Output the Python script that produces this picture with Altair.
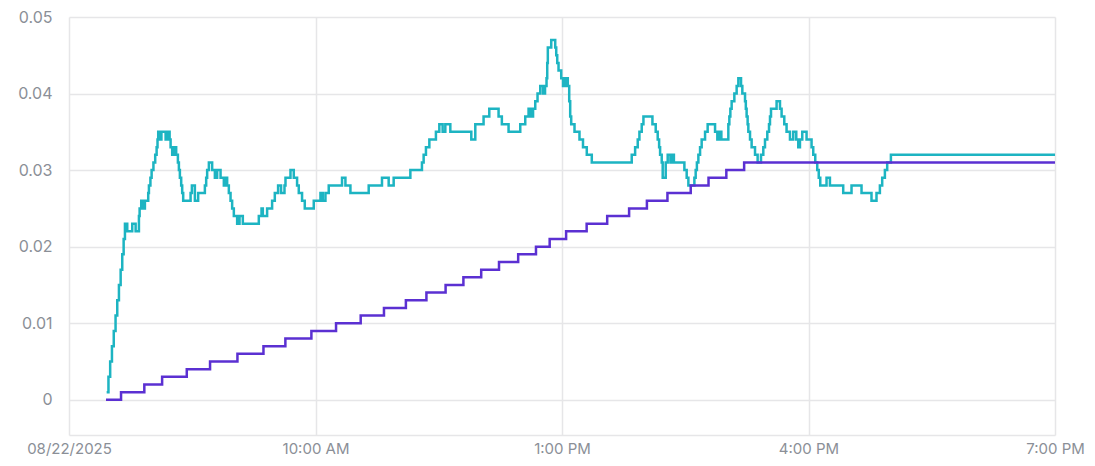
import altair as alt
import pandas as pd

DAY = "2025-08-22"

# Teal series (step-after), time of day and value
teal_times = [
    "07:27:30", "07:28:49", "07:30:04", "07:31:22", "07:32:41", "07:34:00", "07:35:14",
    "07:36:28", "07:37:43", "07:38:53", "07:39:54", "07:40:51", "07:42:32", "07:46:11",
    "07:48:39", "07:51:04", "07:51:34", "07:52:45", "07:53:59", "07:55:26", "07:57:51",
    "07:58:22", "07:59:27", "08:00:20", "08:01:39", "08:02:57", "08:03:59", "08:04:38",
    "08:05:09", "08:06:01", "08:07:29", "08:10:33", "08:11:51", "08:13:28", "08:14:11",
    "08:15:21", "08:16:36", "08:18:16", "08:19:31", "08:20:15", "08:20:58", "08:21:55",
    "08:22:39", "08:23:23", "08:28:47", "08:29:44", "08:31:55", "08:34:19", "08:39:13",
    "08:40:10", "08:40:53", "08:42:08", "08:44:32", "08:46:31", "08:48:11", "08:50:40",
    "08:53:04", "08:54:19", "08:55:29", "08:56:43", "08:57:58", "08:59:08", "09:00:22",
    "09:02:47", "09:04:32", "09:06:56", "09:18:36", "09:20:35", "09:21:32", "09:24:40",
    "09:28:19", "09:30:17", "09:32:41", "09:34:52", "09:37:21", "09:38:05", "09:41:44",
    "09:44:08", "09:46:33", "09:47:47", "09:50:11", "09:52:10", "09:58:44", "10:03:37",
    "10:05:17", "10:07:16", "10:09:40", "10:19:22", "10:21:51", "10:25:30", "10:38:51",
    "10:48:33", "10:53:26", "10:57:05", "11:09:16", "11:17:44", "11:18:58", "11:20:39",
    "11:23:08", "11:27:56", "11:30:25", "11:32:50", "11:34:48", "11:38:27", "11:53:46",
    "11:56:41", "12:02:44", "12:06:54", "12:13:41", "12:16:05", "12:20:59", "12:29:31",
    "12:33:10", "12:35:35", "12:37:02", "12:38:52", "12:40:28", "12:42:08", "12:44:07",
    "12:46:09", "12:47:37", "12:48:42", "12:49:13", "12:49:39", "12:52:08", "12:55:03",
    "12:55:47", "12:56:31", "12:57:28", "12:59:26", "13:00:44", "13:02:34", "13:04:14",
    "13:05:16", "13:05:59", "13:06:43", "13:09:08", "13:12:46", "13:15:20", "13:18:06",
    "13:21:45", "13:50:55", "13:53:24", "13:55:18", "13:56:32", "13:58:13", "13:59:28",
    "14:06:02", "14:08:26", "14:09:53", "14:10:55", "14:11:38", "14:12:49", "14:13:32",
    "14:15:44", "14:17:11", "14:19:10", "14:20:37", "14:21:43", "14:29:22", "14:31:03",
    "14:32:17", "14:36:40", "14:37:37", "14:38:30", "14:39:35", "14:40:49", "14:41:59",
    "14:44:28", "14:46:22", "14:51:46", "14:53:26", "14:54:54", "14:56:22", "15:01:28",
    "15:02:12", "15:02:56", "15:03:53", "15:05:51", "15:07:32", "15:08:46", "15:10:44",
    "15:11:41", "15:13:39", "15:14:14", "15:14:49", "15:15:33", "15:16:04", "15:17:18",
    "15:18:28", "15:20:57", "15:22:51", "15:25:19", "15:27:00", "15:28:14", "15:29:55",
    "15:31:10", "15:31:53", "15:32:37", "15:36:42", "15:39:11", "15:40:21", "15:42:19",
    "15:43:59", "15:46:28", "15:48:53", "15:51:04", "15:52:32", "15:53:46", "15:55:27",
    "15:58:35", "16:02:14", "16:03:28", "16:04:56", "16:06:23", "16:07:29", "16:08:35",
    "16:13:10", "16:15:39", "16:25:21", "16:31:25", "16:38:43", "16:46:00", "16:49:39",
    "16:52:08", "16:53:49", "16:55:47", "16:57:28", "17:00:10", "19:00:00",
]
teal_values = [
    0.001, 0.003, 0.005, 0.007, 0.009, 0.011, 0.013,
    0.015, 0.017, 0.019, 0.021, 0.023, 0.022, 0.023,
    0.022, 0.024, 0.025, 0.026, 0.025, 0.026, 0.027,
    0.028, 0.029, 0.030, 0.031, 0.032, 0.033, 0.034,
    0.035, 0.034, 0.035, 0.034, 0.035, 0.034, 0.033,
    0.032, 0.033, 0.032, 0.031, 0.030, 0.029, 0.028,
    0.027, 0.026, 0.027, 0.028, 0.026, 0.027, 0.028,
    0.029, 0.030, 0.031, 0.030, 0.029, 0.030, 0.029,
    0.028, 0.029, 0.028, 0.027, 0.026, 0.025, 0.024,
    0.023, 0.024, 0.023, 0.024, 0.025, 0.024, 0.025,
    0.026, 0.027, 0.028, 0.027, 0.028, 0.029, 0.030,
    0.029, 0.028, 0.027, 0.026, 0.025, 0.026, 0.027,
    0.026, 0.027, 0.028, 0.029, 0.028, 0.027, 0.028,
    0.029, 0.028, 0.029, 0.030, 0.031, 0.032, 0.033,
    0.034, 0.035, 0.036, 0.035, 0.036, 0.035, 0.034,
    0.036, 0.037, 0.038, 0.037, 0.036, 0.035, 0.036,
    0.037, 0.038, 0.037, 0.038, 0.039, 0.040, 0.041,
    0.040, 0.041, 0.042, 0.044, 0.046, 0.047, 0.046,
    0.045, 0.044, 0.043, 0.042, 0.041, 0.042, 0.041,
    0.039, 0.037, 0.036, 0.035, 0.034, 0.033, 0.032,
    0.031, 0.032, 0.033, 0.034, 0.035, 0.036, 0.037,
    0.036, 0.035, 0.034, 0.033, 0.032, 0.031, 0.029,
    0.031, 0.032, 0.031, 0.032, 0.031, 0.030, 0.029,
    0.028, 0.029, 0.030, 0.031, 0.032, 0.033, 0.034,
    0.035, 0.036, 0.035, 0.034, 0.035, 0.034, 0.036,
    0.037, 0.038, 0.039, 0.040, 0.041, 0.042, 0.041,
    0.040, 0.039, 0.038, 0.037, 0.036, 0.035, 0.034,
    0.033, 0.032, 0.031, 0.032, 0.033, 0.034, 0.035,
    0.036, 0.037, 0.038, 0.039, 0.038, 0.037, 0.036,
    0.035, 0.034, 0.035, 0.034, 0.033, 0.034, 0.035,
    0.034, 0.033, 0.032, 0.031, 0.030, 0.029, 0.028,
    0.029, 0.028, 0.027, 0.028, 0.027, 0.026, 0.027,
    0.028, 0.029, 0.030, 0.031, 0.032, 0.032,
]

# Purple series (step-after)
purple_times = [
    "07:27:00", "07:38:00", "07:55:00", "08:08:00", "08:26:00", "08:43:00", "09:03:00",
    "09:22:00", "09:38:00", "09:57:00", "10:15:00", "10:33:00", "10:50:00", "11:06:00",
    "11:21:00", "11:35:00", "11:48:00", "12:01:00", "12:14:00", "12:28:00", "12:41:00",
    "12:51:00", "13:03:00", "13:18:00", "13:33:00", "13:49:00", "14:02:00", "14:17:00",
    "14:34:00", "14:47:00", "15:00:00", "15:13:00", "19:00:00",
]
purple_values = [
    0.000, 0.001, 0.002, 0.003, 0.004, 0.005, 0.006,
    0.007, 0.008, 0.009, 0.010, 0.011, 0.012, 0.013,
    0.014, 0.015, 0.016, 0.017, 0.018, 0.019, 0.020,
    0.021, 0.022, 0.023, 0.024, 0.025, 0.026, 0.027,
    0.028, 0.029, 0.030, 0.031, 0.031,
]

x_tick_hours = [7, 10, 13, 16, 19]
y_ticks = [0, 0.01, 0.02, 0.03, 0.04, 0.05]

TEAL = "#1db4c2"
PURPLE = "#5b30d2"
GRID = "#e6e6e8"
LABEL = "#8b8f97"
FONT = "Inter"

teal_df = pd.DataFrame({"t": [f"{DAY}T{s}" for s in teal_times], "v": teal_values})
purple_df = pd.DataFrame({"t": [f"{DAY}T{s}" for s in purple_times], "v": purple_values})


def dt(h):
    return alt.DateTime(year=2025, month=8, date=22, hours=h)


x_enc = alt.X(
    "t:T",
    scale=alt.Scale(domain=[dt(7), dt(19)]),
    axis=alt.Axis(
        values=[dt(h) for h in x_tick_hours],
        labelExpr="hours(datum.value) == 7 ? timeFormat(datum.value, '%m/%d/%Y') : timeFormat(datum.value, '%-I:%M %p')",
        title=None,
        ticks=False,
        domain=True,
        domainColor=GRID,
        domainWidth=1.5,
        grid=True,
        gridColor=GRID,
        gridWidth=1.5,
        labelColor=LABEL,
        labelFont=FONT,
        labelFontSize=15,
        labelPadding=6,
        labelFlush=False,
        labelOverlap=False,
    ),
)
y_enc = alt.Y(
    "v:Q",
    scale=alt.Scale(domain=[-0.0046, 0.05], nice=False, zero=False),
    axis=alt.Axis(
        values=y_ticks,
        labelExpr="datum.value == 0 ? '0' : format(datum.value, '.2f')",
        title=None,
        ticks=False,
        domain=False,
        grid=True,
        gridColor=GRID,
        gridWidth=1.5,
        labelColor=LABEL,
        labelFont=FONT,
        labelFontSize=16,
        labelPadding=17,
    ),
)

teal = alt.Chart(teal_df).mark_line(
    interpolate="step-after", color=TEAL, strokeWidth=2.5
).encode(x=x_enc, y=y_enc)
purple = alt.Chart(purple_df).mark_line(
    interpolate="step-after", color=PURPLE, strokeWidth=2.5
).encode(x=x_enc, y=y_enc)

chart = (
    alt.layer(teal, purple)
    .properties(
        width=986,
        height=418,
        autosize=alt.AutoSizeParams(type="none"),
        padding={"left": 61, "top": 9, "right": 32, "bottom": 22},
        background="white",
    )
    .configure_view(stroke=None)
)

chart.save("out.html", embed_options={"renderer": "svg", "actions": False})
